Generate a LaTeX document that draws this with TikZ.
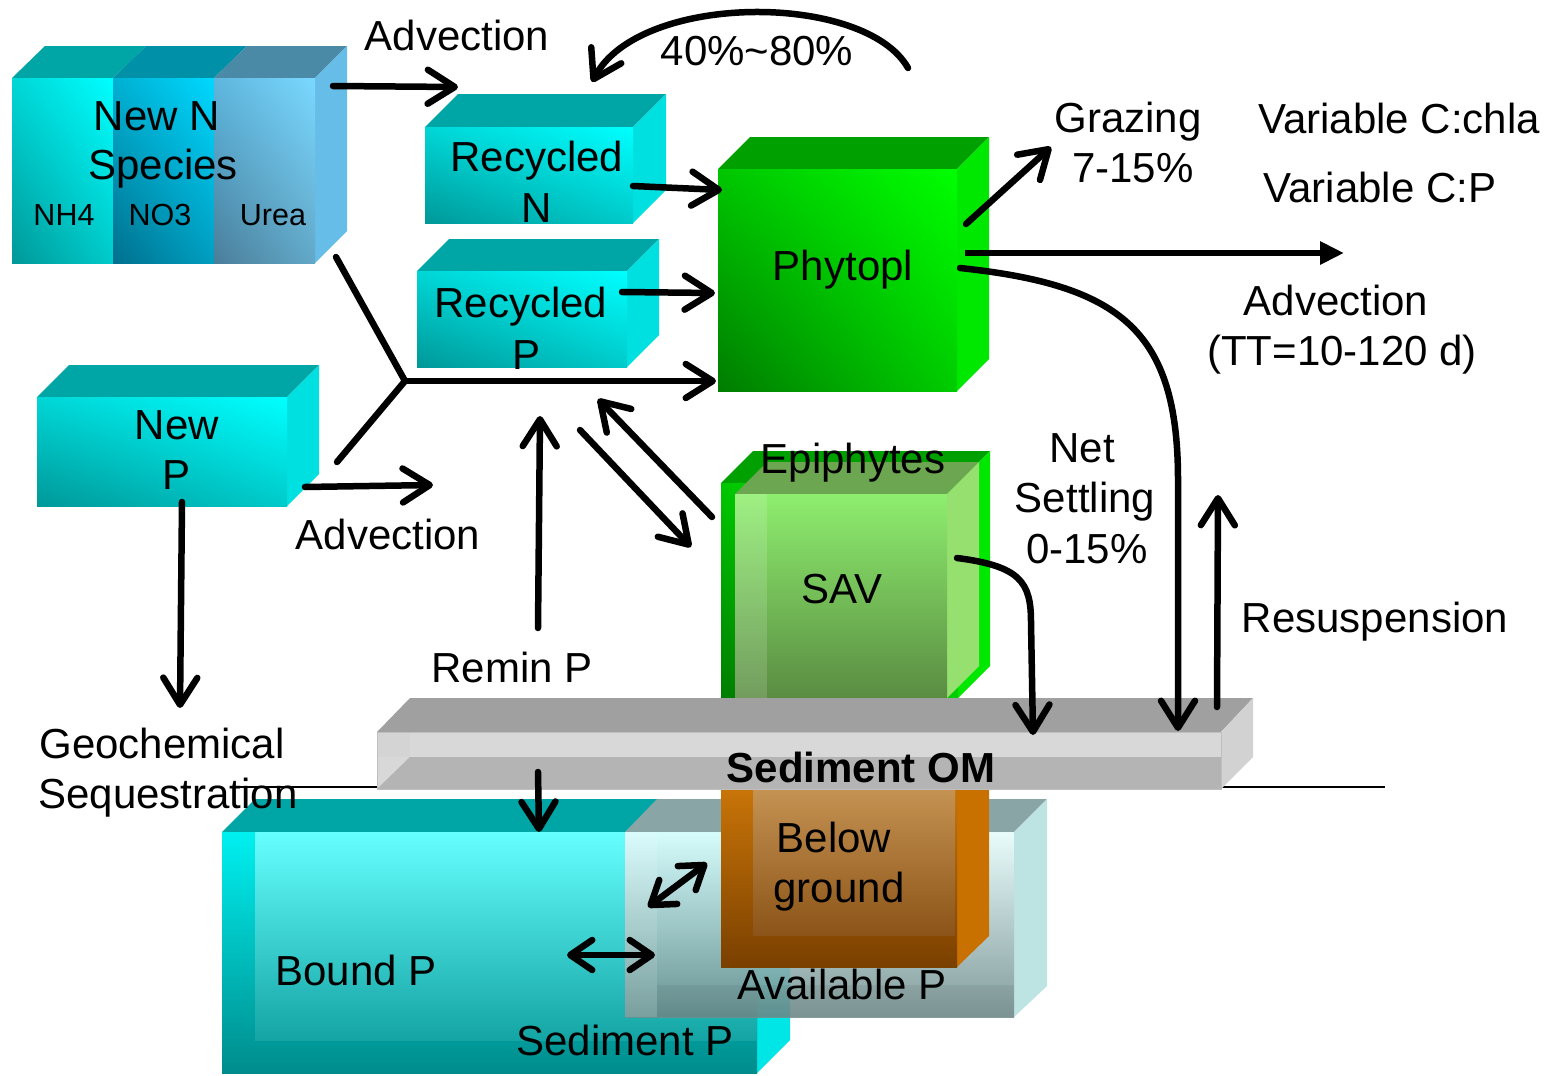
\documentclass[tikz,border=0pt]{standalone}
\usepackage{fontspec}
\setmainfont{Liberation Sans}
\usetikzlibrary{arrows.meta,shadings}
\definecolor{cyTop}{HTML}{00A6A6}
\definecolor{cySide}{HTML}{00E0E0}
\definecolor{cyUR}{HTML}{00FFFF}
\definecolor{cyUL}{HTML}{00D6D6}
\definecolor{cyLL}{HTML}{009898}
\definecolor{cyLR}{HTML}{00CACA}
\definecolor{nTwoTop}{HTML}{0090A8}
\definecolor{nTwoUR}{HTML}{00D8FF}
\definecolor{nTwoUL}{HTML}{00B0D2}
\definecolor{nTwoLL}{HTML}{00708E}
\definecolor{nTwoLR}{HTML}{009EC0}
\definecolor{nThrTop}{HTML}{4A8AA6}
\definecolor{nThrUR}{HTML}{7AD8FF}
\definecolor{nThrUL}{HTML}{5EB6DE}
\definecolor{nThrLL}{HTML}{4A7E9A}
\definecolor{nThrLR}{HTML}{62A8C8}
\definecolor{nSide}{HTML}{66BDE8}
\definecolor{grTop}{HTML}{00A000}
\definecolor{grSide}{HTML}{00E800}
\definecolor{grUR}{HTML}{00FF00}
\definecolor{grUL}{HTML}{00C600}
\definecolor{grLL}{HTML}{007C00}
\definecolor{grLR}{HTML}{00CC00}
\definecolor{savTop}{HTML}{6DA650}
\definecolor{savSide}{HTML}{96E070}
\definecolor{savHi}{HTML}{8EEE6E}
\definecolor{savLo}{HTML}{5A8C42}
\definecolor{omTop}{HTML}{A0A0A0}
\definecolor{omFront}{HTML}{D8D8D8}
\definecolor{omLow}{HTML}{B4B4B4}
\definecolor{omSide}{HTML}{D2D2D2}
\definecolor{orOut}{HTML}{C87408}
\definecolor{orDark}{HTML}{7A4000}
\definecolor{orInHi}{HTML}{C49252}
\definecolor{orInLo}{HTML}{8C5418}
\definecolor{orSide}{HTML}{C87000}
\definecolor{spHi}{HTML}{66FFFF}
\definecolor{spLo}{HTML}{14A4A4}
\definecolor{spOut}{HTML}{00F0F0}
\definecolor{spOutLo}{HTML}{008C8C}
\definecolor{spSide}{HTML}{00E5E5}
\definecolor{apHi}{HTML}{E6FCFC}
\definecolor{apLo}{HTML}{728E8E}
\definecolor{apTop}{HTML}{8AA5A5}
\definecolor{apSide}{HTML}{BDE3E3}
\newcommand\fbig{\fontsize{42}{50}\selectfont}
\newcommand\fsmall{\fontsize{30.5}{36}\selectfont}
% x1 y1 x2 y2 depth frontstyle topcolor sidecolor
\newcommand\cubebox[8]{%
  \fill[#7] (#1,#2) -- (#1+#5,#2-#5) -- (#3+#5,#2-#5) -- (#3,#2) -- cycle;
  \fill[#8] (#3,#2) -- (#3+#5,#2-#5) -- (#3+#5,#4-#5) -- (#3,#4) -- cycle;
  \shade[#6] (#1,#2) rectangle (#3,#4);
}
\begin{document}
\begin{tikzpicture}[x=1pt,y=-1pt,
  lbl/.style={font=\fbig, inner sep=0pt, anchor=base},
  sml/.style={font=\fsmall, inner sep=0pt, anchor=base},
  conn/.style={line width=6.5pt, line cap=round, line join=round},
  arr/.style={conn, -{Straight Barb[round,length=27pt,width=34pt]}},
  darr/.style={conn, {Straight Barb[round,length=22pt,width=30pt]}-{Straight Barb[round,length=22pt,width=30pt]}},
  farr/.style={line width=6.5pt, -{Triangle[length=24pt,width=22pt]}},
  cyfront/.style={upper right=cyUR, upper left=cyUL, lower left=cyLL, lower right=cyLR},
  grfront/.style={upper right=grUR, upper left=grUL, lower left=grLL, lower right=grLR}]
\useasboundingbox (0,0) rectangle (1553,1076);
\fill[white] (0,0) rectangle (1553,1076);

% ---------- sediment P ----------
\cubebox{222}{832}{757}{1073}{33}{top color=spOut, bottom color=spOutLo}{cyTop}{spSide}
\shade[top color=spHi, bottom color=spLo] (255,832) rectangle (757,1040);
% ---------- available P ----------
\fill[apTop] (625,832) -- (657,799) -- (1047,799) -- (1014,832) -- cycle;
\fill[apSide] (1014,832) -- (1047,799) -- (1047,986) -- (1014,1017) -- cycle;
\shade[top color=apHi, bottom color=apLo, opacity=0.88] (625,832) rectangle (1014,1017);
\fill[white, opacity=0.12] (625,832) rectangle (657,1017);
\fill[black, opacity=0.05] (657,985) rectangle (1014,1017);
% ---------- below ground ----------
\fill[orSide] (957,790) -- (989,790) -- (989,936) -- (957,967) -- cycle;
\shade[top color=orOut, bottom color=orDark] (721,790) rectangle (957,967);
\shade[top color=orInHi, bottom color=orInLo] (753,790) rectangle (955,935);

% ---------- ground line ----------
\coordinate (gl1) at (230,787);
\coordinate (gl2) at (1385,787);
\draw[line width=1.5pt] (gl1) -- (gl2);

% ---------- epiphytes / SAV ----------
\cubebox{721}{483}{958}{698}{32}{grfront}{grTop}{grSide}
\cubebox{735}{494}{947}{698}{32}{top color=savHi, bottom color=savLo}{savTop}{savSide}
\fill[white, opacity=0.15] (735,494) rectangle (767,698);

% ---------- sediment OM bar ----------
\fill[omTop] (377,732) -- (410,698) -- (1253,698) -- (1221,732) -- cycle;
\fill[omSide] (1221,732) -- (1253,698) -- (1253,757) -- (1221,789) -- cycle;
\fill[omFront] (377,732) rectangle (1221,789);
\fill[black!17] (377,732) rectangle (410,757);
\fill[omLow] (377,789) -- (410,757) -- (1221,757) -- (1221,789) -- cycle;
\draw[black!25, line width=1pt] (377,732) rectangle (1221,789);

% ---------- New N species ----------
\fill[cyTop] (12,78) -- (45,46) -- (146,46) -- (113,78) -- cycle;
\fill[nTwoTop] (113,78) -- (146,46) -- (247,46) -- (214,78) -- cycle;
\fill[nThrTop] (214,78) -- (247,46) -- (347,46) -- (315,78) -- cycle;
\fill[nSide] (315,78) -- (347,46) -- (347,231) -- (315,263) -- cycle;
\shade[cyfront] (12,78) rectangle (113,263);
\shade[upper right=nTwoUR, upper left=nTwoUL, lower left=nTwoLL, lower right=nTwoLR] (113,78) rectangle (214,263);
\shade[upper right=nThrUR, upper left=nThrUL, lower left=nThrLL, lower right=nThrLR] (214,78) rectangle (315,263);

% ---------- other boxes ----------
\cubebox{425}{127}{633}{223}{33}{cyfront}{cyTop}{cySide}
\cubebox{417}{271}{627}{367}{32}{cyfront}{cyTop}{cySide}
\cubebox{37}{397}{287}{506}{32}{cyfront}{cyTop}{cySide}
\cubebox{718}{169}{957}{391}{32}{grfront}{grTop}{grSide}

% ---------- connector end points ----------
\coordinate (a1s) at (333,86);   \coordinate (a1e) at (458,87);
\coordinate (c1s) at (908,68);   \coordinate (c1e) at (592,82);
\coordinate (a2s) at (633,186);  \coordinate (a2e) at (722,190);
\coordinate (a3s) at (622,292);  \coordinate (a3e) at (715,293);
\coordinate (yA) at (336,257);   \coordinate (yB) at (337,462);
\coordinate (yJ) at (405,381);   \coordinate (yE) at (716,381);
\coordinate (a5s) at (305,487);  \coordinate (a5e) at (433,485);
\coordinate (a6s) at (182,502);  \coordinate (a6e) at (180,708);
\coordinate (a7s) at (538,628);  \coordinate (a7e) at (540,416);
\coordinate (a8s) at (580,430);  \coordinate (a8e) at (691,547);
\coordinate (a9s) at (712,517);  \coordinate (a9e) at (598,399);
\coordinate (a10s) at (966,224); \coordinate (a10e) at (1051,147);
\coordinate (a11s) at (965,253); \coordinate (a11e) at (1344,253);
\coordinate (c2s) at (960,268);  \coordinate (c2e) at (1178,731);
\coordinate (c3s) at (957,558);  \coordinate (c3e) at (1033,735);
\coordinate (a12s) at (1217,707);\coordinate (a12e) at (1218,495);
\coordinate (a13s) at (538,772); \coordinate (a13e) at (539,832);
\coordinate (d1a) at (648,907);  \coordinate (d1b) at (707,863);
\coordinate (d2a) at (567,955);  \coordinate (d2b) at (655,955);

% ---------- connectors ----------
\draw[arr] (a1s) -- (a1e);
\draw[arr] (c1s) .. controls (865,-8) and (640,-8) .. (c1e);
\draw[arr] (a2s) -- (a2e);
\draw[arr] (a3s) -- (a3e);
\draw[conn] (yA) -- (yJ) -- (yB);
\draw[arr] (yJ) -- (yE);
\draw[arr] (a5s) -- (a5e);
\draw[arr] (a6s) -- (a6e);
\draw[arr] (a7s) -- (a7e);
\draw[arr] (a8s) -- (a8e);
\draw[arr] (a9s) -- (a9e);
\draw[arr] (a10s) -- (a10e);
\draw[farr] (a11s) -- (a11e);
\draw[arr] (c2s) .. controls (1120,285) and (1178,330) .. (1178,480) -- (c2e);
\draw[arr] (c3s) .. controls (1020,566) and (1031,582) .. (1031,622) -- (c3e);
\draw[arr] (a12s) -- (a12e);
\draw[arr] (a13s) -- (a13e);
\draw[darr] (d1a) -- (d1b);
\draw[darr] (d2a) -- (d2b);

% ---------- labels ----------
\node[lbl] (tAdv1) at (457,50) {Advection};
\node[lbl] (tPct) at (757,65) {40\%\textasciitilde 80\%};
\node[lbl] (tNewN1) at (157,130) {New N};
\node[lbl] (tNewN2) at (163,179) {Species};
\node[sml] (tNH) at (64,225) {NH4};
\node[sml] (tNO) at (160,225) {NO3};
\node[sml] (tUrea) at (273,225) {Urea};
\node[lbl] (tRecN1) at (537,171) {Recycled};
\node[lbl] (tRecN2) at (537,222) {N};
\node[lbl] (tRecP1) at (521,317) {Recycled};
\node[lbl] (tRecP2) at (527,369) {P};
\node[lbl] (tPhy) at (843,280) {Phytopl};
\node[lbl] (tGraz1) at (1128,132) {Grazing};
\node[lbl] (tGraz2) at (1133,182) {7-15\%};
\node[lbl] (tVar1) at (1399,133) {Variable C:chla};
\node[lbl] (tVar2) at (1380,202) {Variable C:P};
\node[lbl] (tAdv2a) at (1336,315) {Advection};
\node[lbl] (tAdv2b) at (1342,365) {(TT=10-120 d)};
\node[lbl] (tNewP1) at (177,439) {New};
\node[lbl] (tNewP2) at (177,489) {P};
\node[lbl] (tAdv3) at (388,549) {Advection};
\node[lbl] (tEpi) at (853,473) {Epiphytes};
\node[lbl] (tNet1) at (1082,462) {Net};
\node[lbl] (tNet2) at (1085,512) {Settling};
\node[lbl] (tNet3) at (1087,563) {0-15\%};
\node[lbl] (tSAV) at (842,603) {SAV};
\node[lbl] (tRes) at (1375,632) {Resuspension};
\node[lbl] (tRem) at (512,682) {Remin P};
\node[lbl] (tGeo1) at (162,758) {Geochemical};
\node[lbl] (tGeo2) at (168,808) {Sequestration};
\node[lbl, font=\fbig\bfseries] (tSOM) at (861,782) {Sediment OM};
\node[lbl] (tBel1) at (834,852) {Below};
\node[lbl] (tBel2) at (839,902) {ground};
\node[lbl] (tAvail) at (842,999) {Available P};
\node[lbl] (tBound) at (356,985) {Bound P};
\node[lbl] (tSedP) at (625,1055) {Sediment P};
\end{tikzpicture}
\end{document}
